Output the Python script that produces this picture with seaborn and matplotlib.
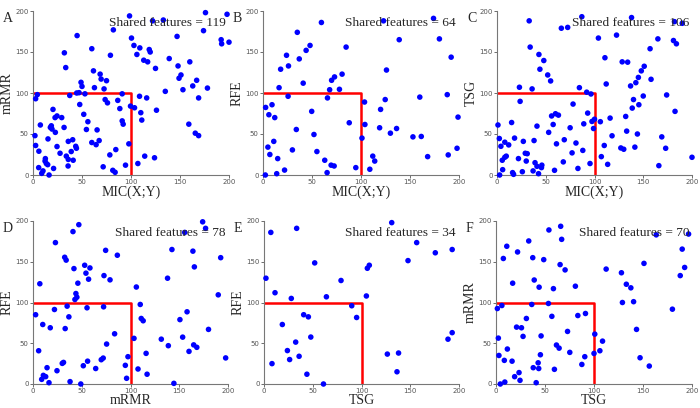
import matplotlib
matplotlib.use("Agg")
import matplotlib.pyplot as plt
import seaborn as sns
import pandas as pd

sns.set_style("ticks")
plt.rcParams["font.family"] = ["DejaVu Sans"]

# panel A: MIC(X;Y) vs mRMR
a_x = [98.5, 133, 122, 176, 198, 174, 82, 45, 100.5, 147, 192, 192.5, 200, 103, 109, 118.6, 119.6, 106,
       32, 60, 79, 113, 117, 139, 160, 148, 125, 33.4, 61.7, 68.5, 69.5, 75, 151, 149, 167, 163, 135, 153,
       49, 50, 62.7, 72.5, 47, 44.6, 53, 37.5, 4.4, 2.7, 73.6, 76, 86.5, 91, 108.7, 116, 99.5, 103.6, 88.6,
       110, 178, 169, 47.7, 51.8, 20.4, 22.5, 24.5, 29.3, 7.5, 126, 56, 91, 92, 111, 31.7, 17.7, 19.4, 18.7,
       54.5, 65.4, 159, 2, 22.8, 15.3, 40.5, 36, 67.5, 60, 64.4, 165.6, 169, 2.7, 43.6, 44.3, 24.5, 97.8,
       84.5, 6, 39, 27.6, 78.4, 34, 114, 124, 36, 41, 12.6, 12.3, 13.6, 15, 35.8, 71.6, 5.8, 94.4, 107, 21,
       81.4, 83.8, 10.2, 8.9, 16.4]
a_y = [194, 189, 188, 198, 196, 176, 177, 170, 167, 169, 165, 160, 162, 158, 155, 153, 150, 147,
       149, 154, 146, 140, 138, 142, 138, 133, 130, 131, 127, 123, 117, 115, 122, 118, 115.5, 108.6, 102, 104,
       113, 108, 106.5, 105, 100.4, 100, 99, 97, 98, 93, 92, 88, 91, 99, 96, 94, 84, 82, 81,
       76, 106, 94, 86, 74, 80, 70, 72, 70, 61, 79, 65, 66, 62, 67, 58, 58, 56, 60,
       55.5, 55, 62, 48, 52, 44, 43, 41, 42, 39.6, 37, 51, 48, 36, 35, 32.6, 34.7, 38,
       31, 29, 28.6, 26.5, 24.5, 23, 23, 21, 19, 18, 20, 17, 14, 12.6, 11, 10, 9, 12, 14, 8,
       5.7, 3.3, 5, 2, 0]

# panel B: MIC(X;Y) vs RFE
b_x = [59.6, 123, 174, 35, 180, 139, 48, 84.8, 44, 24, 37, 192, 26, 18, 126, 80.7, 73, 70, 41, 16.4,
       68, 78, 25.6, 65.8, 188, 160, 103.6, 124.7, 2.7, 9.2, 6, 12, 49.7, 120, 88, 104, 199, 34, 119,
       130, 136.3, 52, 153, 161.5, 101, 11, 5, 30, 198, 7, 55, 15, 112, 114, 168, 189, 63, 69.5, 72.6,
       94.7, 109, 22, 14, 65.4, 2.4]
b_y = [186, 188, 191, 174, 166, 165, 158, 156, 152, 146, 141.6, 143.7, 133, 129, 128, 123, 119.6, 115.5, 112, 106.5,
       104, 104.5, 96, 94, 98, 95, 89, 92, 82.4, 85.7, 73.5, 70, 77.6, 80, 63.7, 61.6, 70.6, 55.5, 57.6,
       51, 56.7, 49.4, 46.5, 47, 45, 41, 34, 30.6, 32.6, 25, 28.6, 20, 23, 17, 22.4, 24.5, 18, 12, 11,
       9, 7, 6, 1.6, 2.9, 0]

# panel C: MIC(X;Y) vs TSG
c_x = [33, 66, 72.5, 87, 138, 182, 190, 122.6, 104, 165, 181, 184, 34, 157, 43, 48, 110.7, 128.4, 134,
       151, 148, 44, 52, 145, 55, 112, 142.4, 158, 23, 36, 84.5, 137, 92, 96.4, 23.7, 174, 150, 140, 78,
       145.5, 138.7, 182.6, 93, 56, 60, 63, 132, 1, 15, 41, 57.6, 97.4, 100, 106, 116, 99, 89, 75, 133,
       53, 144, 118, 169, 18, 2.4, 4, 8, 12, 38, 27, 69, 81, 61, 110, 141.4, 127, 130, 173, 88, 77, 29,
       31, 30, 9.5, 8, 5.4, 22, 107, 39, 95.4, 200, 68, 41, 46, 45.6, 113.5, 166, 5.8, 37, 59, 83, 26,
       16, 17, 42.6, 2.7]
c_y = [188, 179, 180, 193, 192, 187, 185, 170.6, 167, 166, 164, 160, 156, 154, 147, 139.6, 143, 138, 137.6,
       132.6, 127, 129, 122, 119, 114.7, 111, 112.6, 116.7, 107, 105, 106.5, 108.6, 101, 98.8, 89.8, 97.6, 96.3, 92, 86.5,
       85.7, 81.6, 77.6, 75.5, 72, 74.7, 73, 71.4, 61, 64, 59.6, 61.6, 65.3, 68, 65, 69.4, 56.7, 62.4, 57.6, 53.5,
       52, 50, 47.8, 46.5, 45, 44.5, 35, 40, 36.7, 42, 41, 43, 39, 38, 36, 34, 33, 31.4, 32.6, 30, 27, 26.5,
       26, 17, 23, 21.6, 18, 20, 22.4, 15, 14, 21.6, 16, 10.6, 12, 9, 13, 11.4, 6.5, 5, 5.7, 8, 4,
       2.9, 0.8, 1.6, 0]

# panel D: mRMR vs RFE
d_x = [174, 47, 177, 41, 155.6, 23, 142.5, 74.5, 164, 86.5, 32.5, 34, 192.5, 42, 165.5, 53, 58.4, 54.3,
       72.8, 57, 79, 138, 46, 7, 106, 44, 45, 43, 190, 110, 35, 55.4, 72.4, 22, 2.7, 36.8, 111, 113, 158,
       10, 17.7, 33, 150.7, 180, 83.7, 103.6, 153.5, 131.6, 75.5, 138.8, 164.8, 168, 5.8, 160, 116, 97.4,
       72, 70, 56, 30, 31.3, 197.6, 51.6, 94.7, 14.4, 64.3, 24.6, 107.7, 117, 10.6, 13, 8.9, 96, 38, 16.4,
       49, 144.5]
d_y = [199, 195.5, 191, 187, 186, 173.5, 165, 164, 163, 158, 155.5, 152, 155, 141.6, 143.7, 145.7, 142.4, 136,
       133, 128.6, 127.8, 129.8, 123.7, 123, 119, 111, 106.5, 103.7, 109.4, 97.6, 95.5, 93.5, 94.7, 91.4, 85, 82.4, 80.4, 77.6, 88.6,
       73, 69, 68, 79, 67, 61.6, 56, 57.5, 55, 49, 47, 48, 45, 40.8, 40, 37.6, 33.5,
       31.8, 29.8, 28, 25.3, 26.5, 32, 22.4, 22.9, 20, 19, 16.3, 18.4, 12, 10.6, 9, 5.7, 7, 2.9, 1.6,
       0, 0.8]

# panel E: TSG vs RFE
e_x = [131, 7, 33.5, 156.6, 175.7, 193, 147.7, 52, 108, 106, 2, 79, 11.3, 28, 64, 105, 90, 40.7,
       45.5, 95, 18.8, 48, 32.5, 24, 26.3, 36, 8.2, 44, 61, 126.5, 138, 136.4, 188.7, 193]
e_y = [198, 186, 191, 173.5, 161, 165, 151.4, 148.6, 145.7, 142, 129.8, 127, 112, 105, 107, 108, 96, 85,
       82.4, 81.6, 73, 57.6, 51.4, 41, 30, 34, 25, 12, 0, 36.7, 38, 15, 55, 63]

# panel F: TSG vs mRMR
f_x = [66, 54, 67, 163.5, 196.5, 33.4, 11, 22, 190, 7.5, 37.5, 48.7, 65.4, 151, 70.5, 112.4, 192.5, 128,
       188, 39, 17, 133, 81, 137.6, 44, 58.6, 140.4, 129, 53.5, 36.5, 6, 1.4, 180, 91.3, 83.5, 57, 31, 21,
       26, 143.4, 73, 100.8, 27.6, 46, 2.4, 108.7, 61.7, 64.4, 11.6, 100, 106, 75.3, 45.3, 3, 90.6, 147,
       8.5, 16.4, 43, 87.6, 156.4, 38, 43.6, 59.6, 19, 23.5, 24.5, 9, 41, 4.4]
f_y = [193.5, 189, 177.5, 183, 184, 175.5, 169, 162, 165.5, 154, 155, 152.6, 146.5, 148, 140, 141, 143, 136.5,
       133, 127.6, 123.7, 122.4, 120, 118, 118.8, 117, 101, 100, 98.8, 97.6, 96.3, 92.6, 91.8, 86.5, 84, 83, 80.4, 69.8,
       69, 67, 64.5, 61.2, 58.4, 59, 56.3, 52.6, 47.8, 44, 42.9, 37.5, 40.8, 38.8, 35.9, 35, 33.5, 32.2,
       29, 28, 26, 24, 22, 20, 19, 18, 9, 14, 4.5, 2.4, 1.6, 0]

letters = ["A", "B", "C", "D", "E", "F"]
x_labels = ["MIC(X;Y)", "MIC(X;Y)", "MIC(X;Y)", "mRMR", "TSG", "TSG"]
y_labels = ["mRMR", "RFE", "TSG", "RFE", "RFE", "mRMR"]
shared = [119, 64, 106, 78, 34, 70]
threshold = 100

panels = [(a_x, a_y), (b_x, b_y), (c_x, c_y), (d_x, d_y), (e_x, e_y), (f_x, f_y)]

# axes boxes in figure pixels: left, right, top, bottom
boxes = [(33, 229, 11, 175), (263, 459, 11, 175), (497, 692, 11, 175),
         (33, 228, 221, 384), (264, 459, 221, 384), (496, 692, 221, 384)]

W, H = 700, 408
fig = plt.figure(figsize=(7, 4.08), dpi=100)
serif = "Liberation Serif"

for i, ((xs, ys), (l, r, t, b)) in enumerate(zip(panels, boxes)):
    ax = fig.add_axes([l / W, 1 - b / H, (r - l) / W, (b - t) / H])
    df = pd.DataFrame({"x": xs, "y": ys})
    sns.scatterplot(data=df, x="x", y="y", ax=ax, color="#0000ff", s=16,
                    edgecolor="none", linewidth=0, clip_on=False, zorder=3)
    ax.plot([0, threshold, threshold], [threshold, threshold, 0], color="#ff0000", lw=1.8, zorder=2)
    ax.set_xlim(0, 200)
    ax.set_ylim(0, 200)
    ticks = [0, 50, 100, 150, 200]
    ax.set_xticks(ticks)
    ax.set_yticks(ticks)
    ax.tick_params(labelsize=5, length=2, width=0.6, pad=1, colors="#555555")
    for s in ["top", "right"]:
        ax.spines[s].set_visible(False)
    for s in ["left", "bottom"]:
        ax.spines[s].set_color("#777777")
        ax.spines[s].set_linewidth(0.8)
    ax.set_xlabel(x_labels[i], family=serif, fontsize=10, labelpad=0)
    ax.set_ylabel(y_labels[i], family=serif, fontsize=10, labelpad=1)
    ax.text(197, 182, f"Shared features = {shared[i]}", family=serif, fontsize=9.6,
            ha="right", va="baseline", zorder=4)
    fig.text((l - 30) / W, 1 - (t + 8) / H, letters[i], family=serif, fontsize=10,
             ha="left", va="center")

fig.savefig("out.png", dpi=100)
